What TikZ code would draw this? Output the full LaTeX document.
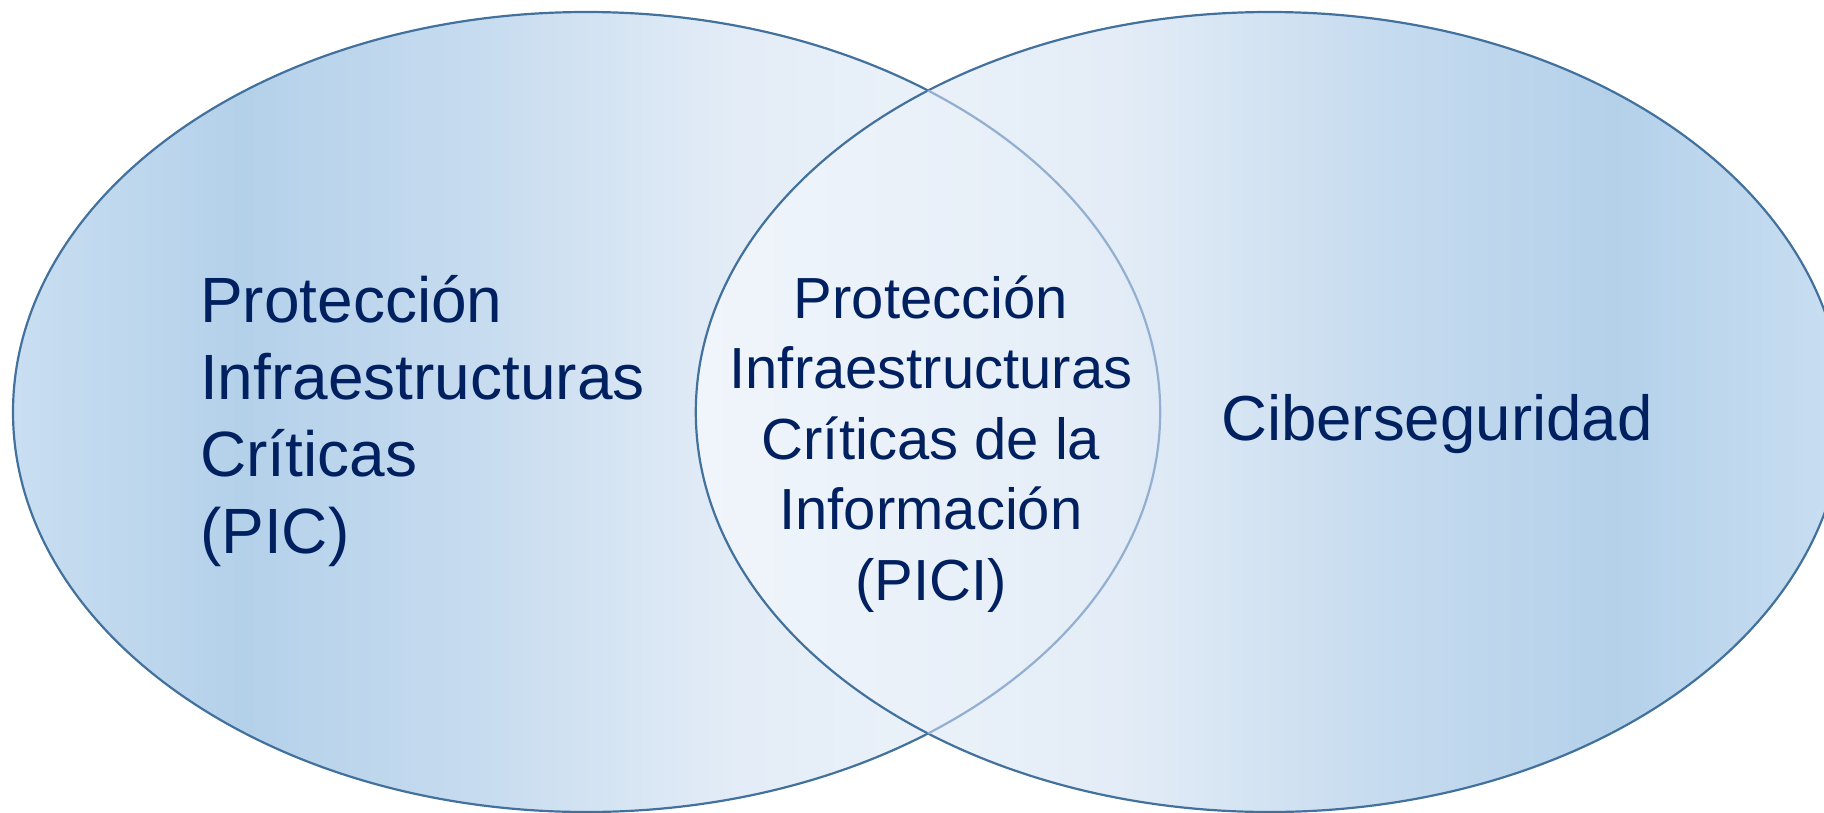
\documentclass[tikz,border=0pt]{standalone}
\usepackage{fontspec}
\setmainfont{Liberation Sans}
\definecolor{venndark}{HTML}{B4D1EA}
\definecolor{vennedge}{HTML}{C9DEF1}
\definecolor{vennmid}{HTML}{C6DBEF}
\definecolor{vennpale}{HTML}{E4EDF7}
\definecolor{vennlight}{HTML}{F0F5FB}
\definecolor{vennline}{HTML}{41719C}
\definecolor{vennfaint}{HTML}{93AFD0}
\definecolor{venntext}{HTML}{002060}
\pgfdeclarehorizontalshading{picshade}{100bp}{color(0bp)=(vennedge); color(25bp)=(vennedge); color(35bp)=(venndark); color(45bp)=(vennmid); color(57bp)=(vennpale); color(75bp)=(vennlight); color(100bp)=(vennlight)}
\pgfdeclarehorizontalshading{cibershade}{100bp}{color(0bp)=(vennlight); color(25bp)=(vennlight); color(43bp)=(vennpale); color(55bp)=(vennmid); color(65bp)=(venndark); color(75bp)=(vennedge); color(100bp)=(vennedge)}
\begin{document}
\begin{tikzpicture}[x=1pt, y=-1pt]
    \tikzstyle{setline}=[draw=vennline, line width=2.2pt]
    \tikzstyle{settext}=[text=venntext, inner sep=0pt]
    \useasboundingbox (0,0) rectangle (1824,812);

    % los dos conjuntos
    \shade[shading=picshade, setline] (586.6,412) ellipse [x radius=573.6, y radius=400];
    \shade[shading=cibershade, setline] (1269.4,412) ellipse [x radius=573.6, y radius=400];
    \begin{scope}
      \clip (1269.4,412) ellipse [x radius=573.6, y radius=400];
      \draw[vennfaint, line width=2.2pt] (586.6,412) ellipse [x radius=573.6, y radius=400];
    \end{scope}

    % textos
    \node[settext, font=\fontsize{64}{76.7}\selectfont, align=left, anchor=base west] (pic) at (200,553) {Protección\\Infraestructuras\\Críticas\\(PIC)};
    \node[settext, font=\fontsize{58}{70.5}\selectfont, align=center, anchor=base] (pici) at (931,600) {Protección\\Infraestructuras\\Críticas de la\\Información\\(PICI)};
    \node[settext, font=\fontsize{63.6}{76}\selectfont, anchor=base west] (ciber) at (1221,440) {Ciberseguridad};
  \end{tikzpicture}
\end{document}
